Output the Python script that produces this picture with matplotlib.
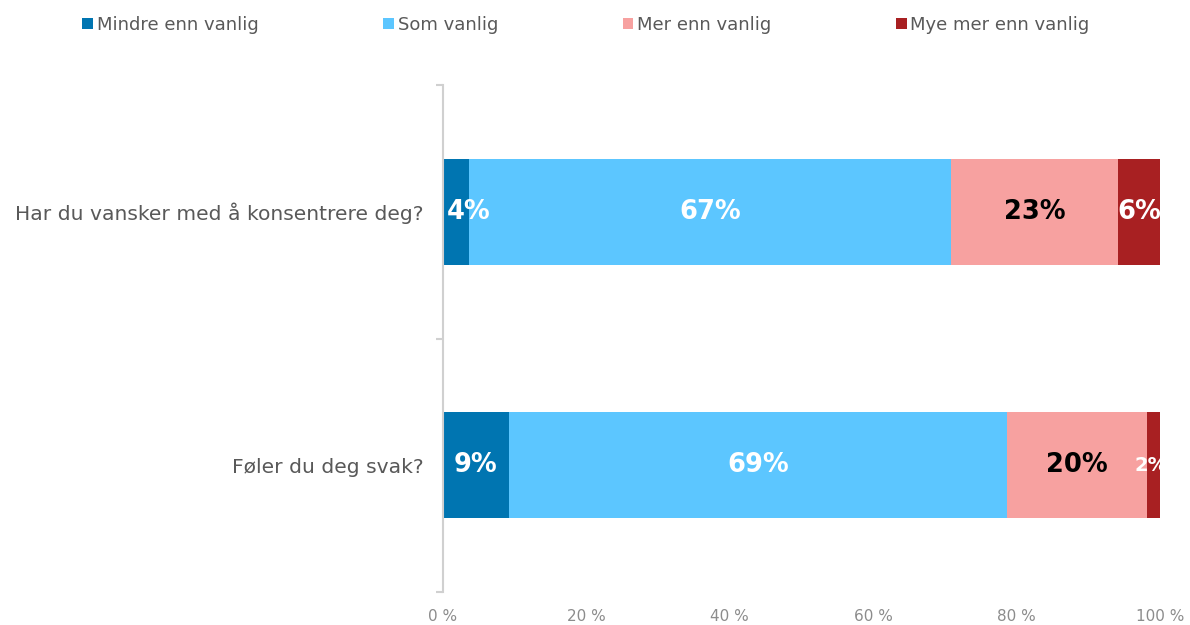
import matplotlib
matplotlib.use("Agg")
import matplotlib.pyplot as plt
from matplotlib.patches import Patch

categories = ["Har du vansker med å konsentrere deg?", "Føler du deg svak?"]
series = ["Mindre enn vanlig", "Som vanlig", "Mer enn vanlig", "Mye mer enn vanlig"]
values = {
    "Mindre enn vanlig": [3.6, 9.2],
    "Som vanlig": [67.3, 69.4],
    "Mer enn vanlig": [23.2, 19.6],
    "Mye mer enn vanlig": [5.9, 1.8],
}
labels = {
    "Mindre enn vanlig": ["4%", "9%"],
    "Som vanlig": ["67%", "69%"],
    "Mer enn vanlig": ["23%", "20%"],
    "Mye mer enn vanlig": ["6%", "2%"],
}
xticks = [0, 20, 40, 60, 80, 100]
xticklabels = ["0 %", "20 %", "40 %", "60 %", "80 %", "100 %"]

colors = ["#0075B1", "#5CC6FF", "#F7A1A0", "#A82022"]
text_colors = ["white", "white", "black", "white"]

plt.rcParams['font.family'] = ['DejaVu Sans']

fig = plt.figure(figsize=(11.9, 6.25), dpi=100)
ax = fig.add_axes([443/1190, 1-592/625, (1160-443)/1190, (592-85)/625])

ypos = list(range(len(categories)))
left = [0.0] * len(categories)
for s, col, tc in zip(series, colors, text_colors):
    vals = values[s]
    ax.barh(ypos, vals, left=left, height=0.42, color=col, edgecolor='none', label=s)
    for i, (v, l0, lab) in enumerate(zip(vals, left, labels[s])):
        fs = 18.5 if v >= 3 else 14
        if s == series[0] and v < 6:
            ax.text(l0 + 0.5, i, lab, ha='left', va='center', color=tc,
                    fontsize=fs, fontweight='bold', clip_on=True)
        else:
            xc = l0 + v / 2
            if v < 3:
                xc = l0 + 0.6
            ax.text(xc, i, lab, ha='center', va='center', color=tc,
                    fontsize=fs, fontweight='bold', clip_on=True)
    left = [a + b for a, b in zip(left, vals)]

ax.set_xlim(0, 100)
ax.set_ylim(1.5, -0.5)
ax.set_xticks(xticks)
ax.set_xticklabels(xticklabels, color='#8c8c8c', fontsize=11)
ax.tick_params(axis='x', length=0, pad=12)
ax.set_yticks(ypos)
ax.set_yticklabels(categories, color='#595959', fontsize=14.6)
ax.set_yticks([-0.5, 0.5, 1.5], minor=True)
ax.tick_params(axis='y', which='major', length=0, pad=14)
ax.tick_params(axis='y', which='minor', length=5, color='#d0d0d0', width=1.5)
for sp in ['top', 'right', 'bottom']:
    ax.spines[sp].set_visible(False)
ax.spines['left'].set_color('#d0d0d0')
ax.spines['left'].set_linewidth(1.5)

handles = [Patch(facecolor=c, edgecolor='none') for c in colors]
fig.legend(handles, series, loc='center', bbox_to_anchor=(586/1190, 1-25/625),
           ncol=4, frameon=False, fontsize=13, labelcolor='#595959',
           handlelength=0.6, handleheight=0.6, handletextpad=0.2,
           columnspacing=6.9, borderaxespad=0, borderpad=0)

fig.savefig("out.png", dpi=100)
